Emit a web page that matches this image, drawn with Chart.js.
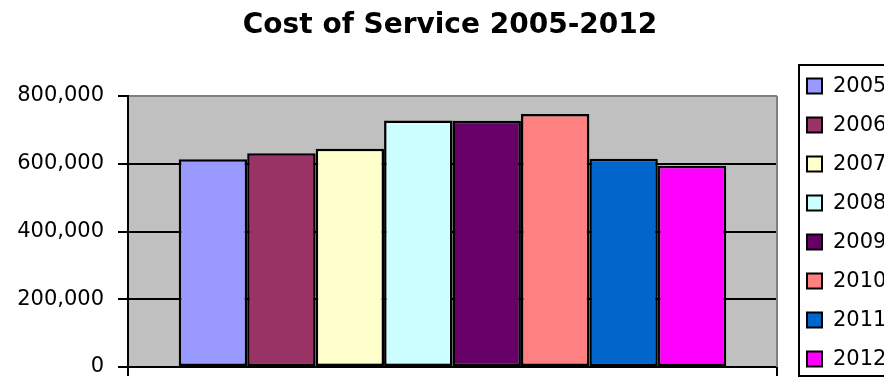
<!DOCTYPE html>
<html>
<head>
<meta charset="utf-8">
<script src="https://cdn.jsdelivr.net/npm/chart.js@4/dist/chart.umd.min.js"></script>
<style>
  html, body { margin: 0; padding: 0; background: #fff; }
  #wrap { width: 884px; height: 379px; overflow: hidden; }
</style>
</head>
<body>
<div id="wrap"><canvas id="c" width="884" height="379"></canvas></div>
<script>
// ---- data ----
const titleText = 'Cost of Service 2005-2012';
const years = ['2005', '2006', '2007', '2008', '2009', '2010', '2011', '2012'];
const costs = [613000, 631000, 644000, 728000, 727000, 747000, 615000, 594000];
const yTicks = [0, 200000, 400000, 600000, 800000];
const barColors = ['#9999FF', '#993366', '#FFFFCC', '#CCFFFF', '#660066', '#FF8080', '#0066CC', '#FF00FF'];

Chart.defaults.font.family = "'DejaVu Sans', Verdana, sans-serif";
Chart.defaults.color = '#000';

const datasets = years.map((y, i) => ({
  label: y,
  data: [costs[i]],
  backgroundColor: barColors[i],
  borderColor: '#000',
  borderWidth: 2.5,
  borderSkipped: false,
  categoryPercentage: 0.8436,
  barPercentage: 1.0
}));

const bgPlugin = {
  id: 'bg',
  beforeDraw(chart) {
    const { ctx, chartArea: a } = chart;
    ctx.save();
    ctx.fillStyle = '#fff';
    ctx.fillRect(0, 0, chart.width, chart.height);
    ctx.fillStyle = '#C0C0C0';
    ctx.fillRect(a.left, a.top, a.right - a.left, a.bottom - a.top);
    ctx.restore();
  },
  beforeDatasetsDraw(chart) {
    const { ctx, chartArea: a } = chart;
    ctx.save();
    ctx.strokeStyle = '#808080';
    ctx.lineWidth = 2;
    ctx.beginPath();
    ctx.moveTo(a.right, a.top);
    ctx.lineTo(a.right, a.bottom);
    ctx.stroke();
    ctx.restore();
  }
};

const legendPlugin = {
  id: 'boxLegend',
  afterDraw(chart) {
    const { ctx, chartArea: a } = chart;
    const left = a.right + 22;
    const top = 65;
    const bottom = 376;
    ctx.save();
    ctx.strokeStyle = '#000';
    ctx.lineWidth = 2;
    ctx.strokeRect(left, top, 200, bottom - top);
    ctx.font = "21px 'DejaVu Sans', Verdana, sans-serif";
    ctx.textBaseline = 'middle';
    ctx.textAlign = 'left';
    chart.data.datasets.forEach((ds, i) => {
      const cy = 86 + 39 * i;
      ctx.fillStyle = ds.backgroundColor;
      ctx.fillRect(left + 8, cy - 7.5, 15, 15);
      ctx.lineWidth = 2;
      ctx.strokeStyle = '#000';
      ctx.strokeRect(left + 8, cy - 7.5, 15, 15);
      ctx.fillStyle = '#000';
      ctx.fillText(ds.label, left + 34, cy + 1);
    });
    ctx.restore();
  }
};

new Chart(document.getElementById('c'), {
  type: 'bar',
  data: { labels: [''], datasets },
  plugins: [bgPlugin, legendPlugin],
  options: {
    responsive: false,
    animation: false,
    layout: { padding: { left: 16, right: 0, top: 0, bottom: 0 } },
    plugins: {
      legend: { display: false },
      tooltip: { enabled: false },
      title: {
        display: true,
        text: titleText,
        color: '#000',
        font: { size: 28, weight: 'bold', family: "'DejaVu Sans', Verdana, sans-serif" },
        padding: { top: 9, bottom: 53.4 }
      }
    },
    scales: {
      x: {
        z: 1,
        grid: { display: true, drawOnChartArea: false, drawTicks: true, tickLength: 9, color: '#000', lineWidth: 2, offset: true },
        border: { display: true, color: '#000', width: 2 },
        ticks: { display: false },
        afterFit(scale) { scale.height = 12; scale.paddingLeft = 0; scale.paddingRight = 0; }
      },
      y: {
        min: 0,
        max: 800000,
        afterBuildTicks(scale) { scale.ticks = yTicks.map(v => ({ value: v })); },
        grid: {
          color: (c) => (c.tick && c.tick.value === 800000) ? '#808080' : '#000',
          tickColor: '#000',
          lineWidth: 2,
          tickLength: 10,
          drawTicks: true
        },
        border: { display: true, color: '#000', width: 2 },
        ticks: {
          padding: 14,
          color: '#000',
          font: { size: 21 },
          callback: (v) => Number(v).toLocaleString('en-US')
        },
        afterFit(scale) { scale.width = 112; scale.paddingTop = 0; scale.paddingBottom = 0; }
      },
      y2: {
        position: 'right',
        display: true,
        grid: { display: false, drawTicks: false },
        border: { display: false },
        ticks: { display: false },
        afterFit(scale) { scale.width = 107; scale.paddingTop = 0; scale.paddingBottom = 0; }
      }
    }
  }
});
</script>
</body>
</html>
